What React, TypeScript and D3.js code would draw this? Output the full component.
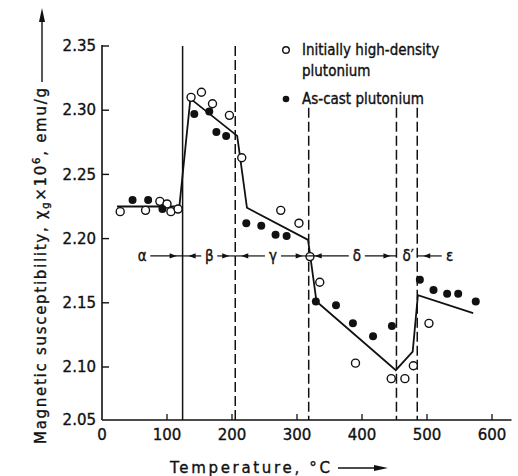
import React from "react";
import * as d3 from "d3";

// ---- data ----
const openT = [28, 67, 89, 100, 106, 117, 137, 153, 170, 196, 215, 275, 303, 320, 335, 390, 445, 466, 479, 503];
const openV = [2.221, 2.222, 2.229, 2.227, 2.221, 2.223, 2.310, 2.314, 2.305, 2.296, 2.263, 2.222, 2.212, 2.186, 2.166, 2.103, 2.089, 2.089, 2.101, 2.134];

const filledT = [47, 71, 93, 142, 165, 176, 191, 222, 245, 267, 284, 329, 360, 386, 417, 446, 489, 510, 531, 548, 575];
const filledV = [2.230, 2.230, 2.223, 2.297, 2.299, 2.283, 2.280, 2.212, 2.210, 2.203, 2.202, 2.151, 2.148, 2.134, 2.124, 2.132, 2.168, 2.160, 2.157, 2.157, 2.151];

const fitT = [23, 119, 136, 208, 223, 317, 330, 452, 478, 486, 571];
const fitV = [2.225, 2.225, 2.309, 2.280, 2.224, 2.199, 2.151, 2.097, 2.112, 2.156, 2.142];

const boundaryT = [124, 205, 318, 453, 485];
const boundaryDashed = [false, true, true, true, true];
const boundaryTopV = [2.35, 2.35, 2.302, 2.302, 2.302];

const phaseLabels = ["α", "β", "γ", "δ", "δ′", "ε"];
const phaseLabelT = [62, 165, 263, 392, 471, 535];
const phaseArrowLeft = [null, 124, 205, 318, null, 485];
const phaseArrowRight = [124, 205, 318, 453, null, null];
const phaseRowV = 2.1865;

const xTicks = [0, 100, 200, 300, 400, 500, 600];
const yTicks = [2.05, 2.10, 2.15, 2.20, 2.25, 2.30, 2.35];

const legendLabels = [["Initially high-density", "plutonium"], ["As-cast plutonium"]];

const FONT = "'DejaVu Sans Condensed', 'DejaVu Sans', sans-serif";
const WIDE = "'DejaVu Sans', sans-serif";
const INK = "#111";

export default function App() {
  const x = d3.scaleLinear().domain([0, 630]).range([102, 511.5]);
  const y = d3.scaleLinear().domain([2.05, 2.10, 2.35]).range([420, 367, 46]);

  const line = d3
    .line<number>()
    .x((_, i) => x(fitT[i]))
    .y((d) => y(d));

  const rowY = y(phaseRowV);
  const hw = 6;

  const arrowHead = (tipX: number, dir: number, key: string) => {
    const L = 7, W = 2.6;
    return (
      <path
        key={key}
        d={`M${tipX},${rowY} L${tipX - dir * L},${rowY - W} L${tipX - dir * L},${rowY + W} Z`}
        fill={INK}
      />
    );
  };

  const txt = { fill: INK, stroke: INK, strokeWidth: 0.35 };

  return (
    <svg width={518} height={476} style={{ position: "absolute", left: 0, top: 0, background: "#fff" }} fontFamily={FONT}>
      <rect width={518} height={476} fill="#fff" />
      {/* axes */}
      <line x1={x(0)} x2={x(0)} y1={y(2.35) - 1} y2={y(2.05)} stroke={INK} strokeWidth={1.6} />
      <line x1={x(0)} x2={x(630)} y1={y(2.05)} y2={y(2.05)} stroke={INK} strokeWidth={1.6} />
      {yTicks.map((v) => (
        <g key={"yt" + v}>
          {v !== 2.05 && <line x1={x(0)} x2={x(0) + 7} y1={y(v)} y2={y(v)} stroke={INK} strokeWidth={1.4} />}
          <text x={x(0) - 6} y={y(v)} dy="0.35em" textAnchor="end" fontSize={15} fontFamily={WIDE} {...txt}>
            {v.toFixed(2)}
          </text>
        </g>
      ))}
      {xTicks.map((t) => (
        <g key={"xt" + t}>
          {t !== 0 && <line x1={x(t)} x2={x(t)} y1={y(2.05)} y2={y(2.05) - 6} stroke={INK} strokeWidth={1.3} />}
          <text x={x(t)} y={y(2.05) + 20} textAnchor="middle" fontSize={15} fontFamily={WIDE} {...txt}>
            {t}
          </text>
        </g>
      ))}

      {/* axis titles */}
      <g transform={`translate(46, 444) rotate(-90)`}>
        <text textAnchor="start" fontSize={15} fontFamily={WIDE} textLength={356} lengthAdjust="spacing" {...txt}>
          Magnetic susceptibility, χ<tspan fontSize={10} dy={3}>g</tspan>
          <tspan dy={-3}>×10</tspan>
          <tspan fontSize={10} dy={-6}>6</tspan>
          <tspan dy={6}>, emu/g</tspan>
        </text>
      </g>
      <line x1={42} x2={42} y1={82} y2={18} stroke={INK} strokeWidth={1.4} />
      <path d="M42,8 L39,22 L45,22 Z" fill={INK} />

      <text x={170} y={473} fontSize={15} fontFamily={WIDE} textLength={160} lengthAdjust="spacing" {...txt}>
        Temperature, °C
      </text>
      <line x1={338} x2={378} y1={468} y2={468} stroke={INK} strokeWidth={1.4} />
      <path d="M388,468 L374,465 L374,471 Z" fill={INK} />

      {/* phase boundaries */}
      {boundaryT.map((t, i) => (
        <line
          key={"b" + i}
          x1={x(t)}
          x2={x(t)}
          y1={y(boundaryTopV[i])}
          y2={y(2.05)}
          stroke={INK}
          strokeWidth={1.5}
          strokeDasharray={boundaryDashed[i] ? "10,4" : undefined}
        />
      ))}

      {/* fitted line */}
      <path d={line(fitV) || ""} fill="none" stroke={INK} strokeWidth={1.8} />

      {/* points */}
      {openT.map((t, i) => (
        <circle key={"o" + i} cx={x(t)} cy={y(openV[i])} r={4} fill="#fff" stroke={INK} strokeWidth={1.4} />
      ))}
      {filledT.map((t, i) => (
        <circle key={"f" + i} cx={x(t)} cy={y(filledV[i])} r={4} fill={INK} />
      ))}

      {/* phase labels with arrows */}
      {phaseLabels.map((lab, i) => {
        const cx = x(phaseLabelT[i]);
        const els: React.ReactNode[] = [];
        els.push(
          <text key="t" x={cx} y={rowY} dy="0.35em" textAnchor="middle" fontSize={15} {...txt}>
            {lab}
          </text>
        );
        const l = phaseArrowLeft[i];
        if (l !== null) {
          const bx = x(l);
          els.push(<line key="ll" x1={cx - hw - 2} x2={bx} y1={rowY} y2={rowY} stroke={INK} strokeWidth={1.2} />);
          els.push(arrowHead(bx + 6, -1, "la"));
        }
        const r = phaseArrowRight[i];
        if (r !== null) {
          const bx = x(r);
          els.push(<line key="rl" x1={cx + hw + 2} x2={bx} y1={rowY} y2={rowY} stroke={INK} strokeWidth={1.2} />);
          els.push(arrowHead(bx - 6, 1, "ra"));
        }
        return <g key={"p" + i}>{els}</g>;
      })}

      {/* legend */}
      <circle cx={286} cy={50} r={3.3} fill="#fff" stroke={INK} strokeWidth={1.4} />
      <text x={302} y={50} dy="0.35em" fontSize={15} {...txt}>{legendLabels[0][0]}</text>
      <text x={302} y={71} dy="0.35em" fontSize={15} {...txt}>{legendLabels[0][1]}</text>
      <circle cx={286} cy={99} r={3.3} fill={INK} />
      <text x={302} y={99} dy="0.35em" fontSize={15} {...txt}>{legendLabels[1][0]}</text>
    </svg>
  );
}
